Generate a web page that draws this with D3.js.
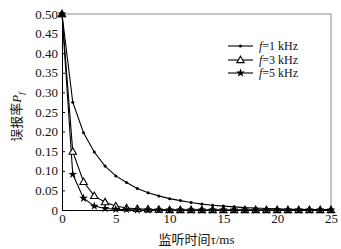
<!DOCTYPE html>
<html><head><meta charset="utf-8">
<script src="https://cdn.jsdelivr.net/npm/d3@7"></script>
<style>
body{margin:0;background:#fff;}
svg{display:block;font-family:"Liberation Serif","Times New Roman",serif;}
</style></head>
<body><svg id="c" width="341" height="249"></svg>
<script>
const tau = d3.range(0, 26);
const f1 = [0.5,0.275,0.197,0.148,0.112,0.087,0.070,0.055,0.044,0.036,0.029,0.024,0.019,0.015,0.012,0.010,0.008,0.006,0.005,0.004,0.003,0.002,0.002,0.001,0.001,0.001];
const f3 = [0.5,0.149,0.072,0.036,0.020,0.010,0.005,0.003,0.002,0.001,0,0,0,0,0,0,0,0,0,0,0,0,0,0,0,0];
const f5 = [0.5,0.091,0.030,0.010,0.004,0.002,0.001,0,0,0,0,0,0,0,0,0,0,0,0,0,0,0,0,0,0,0];
const seriesNames = ["f=1 kHz","f=3 kHz","f=5 kHz"];
const xTicks = [0,5,10,15,20,25];
const yTicks = [0,0.05,0.10,0.15,0.20,0.25,0.30,0.35,0.40,0.45,0.50];

const svg = d3.select("#c");
const L=62,R=331,T=14,B=210;
const x = d3.scaleLinear().domain([0,25]).range([L,R]);
const y = d3.scaleLinear().domain([0,0.5]).range([B,T]);

svg.append("line").attr("x1",L).attr("x2",R).attr("y1",T).attr("y2",T).attr("stroke","#888").attr("stroke-width",1);
svg.append("line").attr("x1",R).attr("x2",R).attr("y1",T).attr("y2",B).attr("stroke","#888").attr("stroke-width",1);

const yAxis = svg.append("g").attr("transform",`translate(${L},0)`)
  .call(d3.axisLeft(y).tickValues(yTicks).tickSizeInner(-3).tickSizeOuter(0).tickPadding(4)
    .tickFormat(d=> d===0 ? "0" : d3.format(".2f")(d)));
const xAxis = svg.append("g").attr("transform",`translate(0,${B})`)
  .call(d3.axisBottom(x).tickValues(xTicks).tickSizeInner(-3).tickSizeOuter(0).tickPadding(4));
[yAxis,xAxis].forEach(g=>{
  g.selectAll("text").attr("font-family","Liberation Serif").attr("font-size",13).attr("fill","#111");
  g.selectAll("path,line").attr("stroke","#000");
});

const line = d3.line().x((d,i)=>x(tau[i])).y(d=>y(d));
const data = [f1,f3,f5];
data.forEach(s=>{
  svg.append("path").datum(s).attr("d",line).attr("fill","none").attr("stroke","#000").attr("stroke-width",1.1);
});

const tri = d3.symbol().type(d3.symbolTriangle).size(24);
const star = d3.symbol().type(d3.symbolStar).size(24);
function marker(g, k, px, py){
  if(k===0) g.append("circle").attr("cx",px).attr("cy",py).attr("r",1.5).attr("fill","#000");
  else if(k===1) g.append("path").attr("d",tri()).attr("transform",`translate(${px},${py+0.5})`).attr("fill","#fff").attr("stroke","#000").attr("stroke-width",1.1);
  else g.append("path").attr("d",star()).attr("transform",`translate(${px},${py})`).attr("fill","#000");
}
const mg = svg.append("g");
data.forEach((s,k)=>{
  s.forEach((v,i)=>marker(mg,k,x(tau[i]),y(v)));
});
mg.append("path").attr("d",tri()).attr("transform",`translate(${x(0)},${y(0.5)+0.5})`).attr("fill","#000");

const legY=[46,60,73];
seriesNames.forEach((n,k)=>{
  svg.append("line").attr("x1",228).attr("x2",253).attr("y1",legY[k]).attr("y2",legY[k]).attr("stroke","#000").attr("stroke-width",1.1);
  marker(svg,k,240.5,legY[k]);
  const t = svg.append("text").attr("x",259).attr("y",legY[k]+4).attr("font-size",12).attr("fill","#111");
  t.append("tspan").attr("font-style","italic").text(n.split("=")[0]);
  t.append("tspan").text("="+n.split("=")[1]);
});

const xt = svg.append("text").attr("x",(L+R)/2).attr("y",244).attr("text-anchor","middle").attr("font-size",13).attr("fill","#111");
xt.append("tspan").attr("font-family","Noto Sans CJK SC").text("监听时间");
xt.append("tspan").text("τ/ms");
const yt = svg.append("text").attr("transform",`translate(21,${(T+B)/2+5}) rotate(-90)`).attr("text-anchor","middle").attr("font-size",13).attr("fill","#111");
yt.append("tspan").attr("font-family","Noto Sans CJK SC").text("误报率");
yt.append("tspan").attr("font-style","italic").text("P");
yt.append("tspan").attr("font-style","italic").attr("font-size",9).attr("dy",3).text("f");
</script></body></html>
